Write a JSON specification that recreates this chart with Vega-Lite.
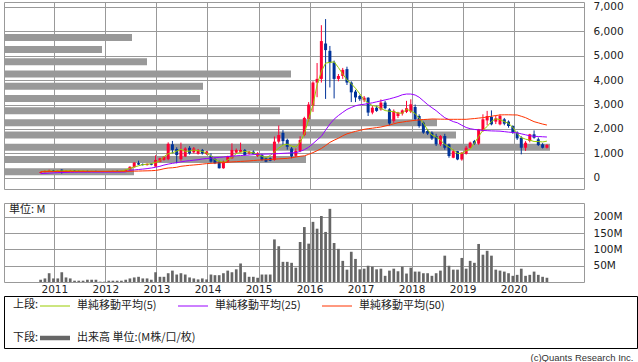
{
  "$schema": "https://vega.github.io/schema/vega-lite/v6.json",
  "background": "white",
  "padding": {"left": 3, "top": 1, "right": 0, "bottom": 0},
  "autosize": {"type": "pad"},
  "title": {"text": "(c)Quants Research Inc.", "orient": "bottom", "anchor": "end", "font": "Liberation Sans", "fontSize": 9.5, "fontWeight": "normal", "color": "#333333", "offset": 4, "dx": -4},
  "datasets": {
    "vp": [
      {"p": 250, "v": 130}, {"p": 750, "v": 302}, {"p": 1250, "v": 546}, {"p": 1750, "v": 452},
      {"p": 2250, "v": 433}, {"p": 2750, "v": 276}, {"p": 3250, "v": 196}, {"p": 3750, "v": 199},
      {"p": 4250, "v": 287}, {"p": 4750, "v": 143}, {"p": 5250, "v": 98}, {"p": 5750, "v": 128}
    ],
    "m": [
      {"d":"2010-09","o":200,"h":240,"l":190,"c":230,"v":7,"m5":260,"m25":170,"m50":250},
      {"d":"2010-10","o":230,"h":300,"l":220,"c":280,"v":11,"m5":270,"m25":180,"m50":252},
      {"d":"2010-11","o":280,"h":330,"l":260,"c":300,"v":27,"m5":275,"m25":190,"m50":254},
      {"d":"2010-12","o":300,"h":320,"l":260,"c":270,"v":11,"m5":274,"m25":200,"m50":256},
      {"d":"2011-01","o":270,"h":310,"l":250,"c":290,"v":11,"m5":282,"m25":210,"m50":258},
      {"d":"2011-02","o":330,"h":350,"l":170,"c":270,"v":30,"m5":284,"m25":215,"m50":260},
      {"d":"2011-03","o":270,"h":310,"l":240,"c":290,"v":14,"m5":284,"m25":220,"m50":260},
      {"d":"2011-04","o":290,"h":320,"l":270,"c":300,"v":11,"m5":286,"m25":225,"m50":261},
      {"d":"2011-05","o":300,"h":310,"l":270,"c":280,"v":4,"m5":282,"m25":228,"m50":261},
      {"d":"2011-06","o":280,"h":300,"l":260,"c":270,"v":4,"m5":284,"m25":230,"m50":262},
      {"d":"2011-07","o":270,"h":290,"l":250,"c":280,"v":4,"m5":278,"m25":230,"m50":262},
      {"d":"2011-08","o":280,"h":290,"l":240,"c":260,"v":7,"m5":272,"m25":230,"m50":262},
      {"d":"2011-09","o":260,"h":280,"l":240,"c":270,"v":7,"m5":268,"m25":232,"m50":262},
      {"d":"2011-10","o":270,"h":290,"l":250,"c":260,"v":7,"m5":264,"m25":232,"m50":262},
      {"d":"2011-11","o":260,"h":270,"l":240,"c":250,"v":1,"m5":260,"m25":232,"m50":262},
      {"d":"2011-12","o":250,"h":270,"l":240,"c":260,"v":1,"m5":262,"m25":232,"m50":262},
      {"d":"2012-01","o":260,"h":280,"l":250,"c":270,"v":4,"m5":264,"m25":233,"m50":262},
      {"d":"2012-02","o":270,"h":290,"l":260,"c":280,"v":4,"m5":266,"m25":233,"m50":262},
      {"d":"2012-03","o":280,"h":300,"l":260,"c":270,"v":4,"m5":272,"m25":233,"m50":262},
      {"d":"2012-04","o":270,"h":290,"l":260,"c":280,"v":4,"m5":284,"m25":233,"m50":263},
      {"d":"2012-05","o":280,"h":330,"l":270,"c":320,"v":7,"m5":320,"m25":240,"m50":263},
      {"d":"2012-06","o":340,"h":470,"l":330,"c":450,"v":11,"m5":388,"m25":300,"m50":265},
      {"d":"2012-07","o":430,"h":640,"l":420,"c":620,"v":14,"m5":442,"m25":320,"m50":270},
      {"d":"2012-08","o":600,"h":700,"l":520,"c":540,"v":16,"m5":490,"m25":340,"m50":275},
      {"d":"2012-09","o":560,"h":590,"l":500,"c":520,"v":11,"m5":540,"m25":355,"m50":280},
      {"d":"2012-10","o":520,"h":590,"l":500,"c":570,"v":11,"m5":556,"m25":375,"m50":285},
      {"d":"2012-11","o":580,"h":600,"l":510,"c":530,"v":7,"m5":578,"m25":400,"m50":290},
      {"d":"2012-12","o":460,"h":920,"l":450,"c":730,"v":30,"m5":630,"m25":430,"m50":300},
      {"d":"2013-01","o":660,"h":820,"l":640,"c":800,"v":16,"m5":698,"m25":470,"m50":330},
      {"d":"2013-02","o":730,"h":880,"l":700,"c":860,"v":16,"m5":862,"m25":520,"m50":370},
      {"d":"2013-03","o":760,"h":1450,"l":720,"c":1390,"v":27,"m5":984,"m25":560,"m50":400},
      {"d":"2013-04","o":1370,"h":1510,"l":1000,"c":1140,"v":35,"m5":1024,"m25":590,"m50":410},
      {"d":"2013-05","o":1180,"h":1250,"l":590,"c":930,"v":23,"m5":1092,"m25":620,"m50":430},
      {"d":"2013-06","o":760,"h":1440,"l":700,"c":1140,"v":27,"m5":1160,"m25":650,"m50":470},
      {"d":"2013-07","o":870,"h":1250,"l":850,"c":1200,"v":23,"m5":1082,"m25":680,"m50":490},
      {"d":"2013-08","o":1230,"h":1300,"l":950,"c":1000,"v":14,"m5":1094,"m25":700,"m50":510},
      {"d":"2013-09","o":1040,"h":1260,"l":1000,"c":1200,"v":11,"m5":1136,"m25":720,"m50":525},
      {"d":"2013-10","o":980,"h":1180,"l":950,"c":1140,"v":8,"m5":1108,"m25":740,"m50":540},
      {"d":"2013-11","o":1140,"h":1180,"l":950,"c":1000,"v":11,"m5":1082,"m25":770,"m50":560},
      {"d":"2013-12","o":970,"h":1100,"l":940,"c":1070,"v":8,"m5":1014,"m25":790,"m50":580},
      {"d":"2014-01","o":890,"h":1000,"l":620,"c":660,"v":23,"m5":892,"m25":805,"m50":590},
      {"d":"2014-02","o":770,"h":820,"l":560,"c":590,"v":21,"m5":742,"m25":820,"m50":600},
      {"d":"2014-03","o":660,"h":700,"l":380,"c":390,"v":21,"m5":674,"m25":835,"m50":610},
      {"d":"2014-04","o":390,"h":700,"l":370,"c":660,"v":27,"m5":632,"m25":850,"m50":620},
      {"d":"2014-05","o":660,"h":900,"l":620,"c":860,"v":35,"m5":728,"m25":870,"m50":635},
      {"d":"2014-06","o":800,"h":1410,"l":780,"c":1140,"v":30,"m5":838,"m25":885,"m50":650},
      {"d":"2014-07","o":1030,"h":1200,"l":1000,"c":1140,"v":39,"m5":988,"m25":900,"m50":660},
      {"d":"2014-08","o":1060,"h":1440,"l":1040,"c":1140,"v":57,"m5":1042,"m25":910,"m50":670},
      {"d":"2014-09","o":1140,"h":1180,"l":900,"c":930,"v":30,"m5":1084,"m25":920,"m50":680},
      {"d":"2014-10","o":1000,"h":1100,"l":950,"c":1070,"v":16,"m5":1052,"m25":930,"m50":690},
      {"d":"2014-11","o":1070,"h":1120,"l":950,"c":980,"v":16,"m5":1024,"m25":945,"m50":705},
      {"d":"2014-12","o":890,"h":1050,"l":850,"c":1000,"v":13,"m5":942,"m25":960,"m50":720},
      {"d":"2015-01","o":930,"h":980,"l":700,"c":730,"v":23,"m5":888,"m25":965,"m50":730},
      {"d":"2015-02","o":800,"h":850,"l":640,"c":660,"v":23,"m5":814,"m25":970,"m50":740},
      {"d":"2015-03","o":800,"h":830,"l":680,"c":700,"v":23,"m5":914,"m25":975,"m50":750},
      {"d":"2015-04","o":730,"h":1690,"l":700,"c":1480,"v":131,"m5":1064,"m25":980,"m50":765},
      {"d":"2015-05","o":1480,"h":2140,"l":1400,"c":1750,"v":110,"m5":1218,"m25":990,"m50":775},
      {"d":"2015-06","o":1840,"h":1950,"l":1350,"c":1500,"v":62,"m5":1340,"m25":1000,"m50":785},
      {"d":"2015-07","o":1550,"h":1600,"l":1150,"c":1270,"v":62,"m5":1376,"m25":1010,"m50":795},
      {"d":"2015-08","o":1200,"h":1260,"l":800,"c":880,"v":59,"m5":1300,"m25":1020,"m50":820},
      {"d":"2015-09","o":900,"h":1200,"l":850,"c":1100,"v":44,"m5":1260,"m25":1030,"m50":850},
      {"d":"2015-10","o":1100,"h":1700,"l":1050,"c":1550,"v":123,"m5":1450,"m25":1080,"m50":880},
      {"d":"2015-11","o":1750,"h":2500,"l":1700,"c":2450,"v":169,"m5":1796,"m25":1150,"m50":900},
      {"d":"2015-12","o":2400,"h":3100,"l":2300,"c":3000,"v":118,"m5":2400,"m25":1250,"m50":960},
      {"d":"2016-01","o":2950,"h":3950,"l":2700,"c":3900,"v":185,"m5":2990,"m25":1400,"m50":1030},
      {"d":"2016-02","o":3900,"h":4700,"l":3300,"c":4050,"v":164,"m5":3800,"m25":1550,"m50":1110},
      {"d":"2016-03","o":4050,"h":6250,"l":3900,"c":5600,"v":203,"m5":4356,"m25":1700,"m50":1200},
      {"d":"2016-04","o":5500,"h":6500,"l":3230,"c":5230,"v":154,"m5":4696,"m25":1950,"m50":1320},
      {"d":"2016-05","o":5200,"h":5400,"l":3700,"c":4700,"v":225,"m5":4726,"m25":2200,"m50":1450},
      {"d":"2016-06","o":4720,"h":4800,"l":3250,"c":4050,"v":120,"m5":4750,"m25":2400,"m50":1540},
      {"d":"2016-07","o":4050,"h":4250,"l":3950,"c":4170,"v":102,"m5":4514,"m25":2550,"m50":1620},
      {"d":"2016-08","o":4170,"h":4500,"l":4050,"c":4420,"v":65,"m5":4248,"m25":2680,"m50":1720},
      {"d":"2016-09","o":4450,"h":4550,"l":3800,"c":3900,"v":38,"m5":4008,"m25":2800,"m50":1800},
      {"d":"2016-10","o":3900,"h":3950,"l":3100,"c":3500,"v":93,"m5":3856,"m25":2880,"m50":1850},
      {"d":"2016-11","o":3530,"h":3600,"l":3100,"c":3290,"v":71,"m5":3666,"m25":2950,"m50":1900},
      {"d":"2016-12","o":3350,"h":3400,"l":3150,"c":3220,"v":39,"m5":3438,"m25":2990,"m50":1940},
      {"d":"2017-01","o":3180,"h":3350,"l":3100,"c":3280,"v":41,"m5":3192,"m25":3010,"m50":1984},
      {"d":"2017-02","o":3280,"h":3300,"l":2530,"c":2670,"v":50,"m5":3066,"m25":3040,"m50":2010},
      {"d":"2017-03","o":2670,"h":2950,"l":2600,"c":2870,"v":47,"m5":2956,"m25":3070,"m50":2030},
      {"d":"2017-04","o":2870,"h":2950,"l":2700,"c":2740,"v":39,"m5":2928,"m25":3110,"m50":2055},
      {"d":"2017-05","o":2800,"h":3210,"l":2750,"c":3080,"v":41,"m5":2842,"m25":3150,"m50":2080},
      {"d":"2017-06","o":3080,"h":3150,"l":2800,"c":2850,"v":19,"m5":2752,"m25":3190,"m50":2120},
      {"d":"2017-07","o":2800,"h":2850,"l":2150,"c":2220,"v":35,"m5":2726,"m25":3230,"m50":2160},
      {"d":"2017-08","o":2330,"h":2800,"l":2250,"c":2740,"v":41,"m5":2712,"m25":3280,"m50":2210},
      {"d":"2017-09","o":2530,"h":2700,"l":2450,"c":2670,"v":33,"m5":2648,"m25":3330,"m50":2257},
      {"d":"2017-10","o":2630,"h":2800,"l":2550,"c":2760,"v":47,"m5":2648,"m25":3400,"m50":2280},
      {"d":"2017-11","o":2700,"h":3150,"l":2650,"c":2850,"v":26,"m5":2806,"m25":3430,"m50":2310},
      {"d":"2017-12","o":2710,"h":3215,"l":2650,"c":3010,"v":44,"m5":2738,"m25":3430,"m50":2330},
      {"d":"2018-01","o":2900,"h":3000,"l":2350,"c":2400,"v":32,"m5":2628,"m25":3390,"m50":2353},
      {"d":"2018-02","o":2530,"h":2600,"l":2050,"c":2120,"v":32,"m5":2446,"m25":3300,"m50":2370},
      {"d":"2018-03","o":2260,"h":2300,"l":1800,"c":1850,"v":27,"m5":2238,"m25":3150,"m50":2385},
      {"d":"2018-04","o":1915,"h":2000,"l":1750,"c":1810,"v":27,"m5":1958,"m25":3000,"m50":2395},
      {"d":"2018-05","o":1850,"h":1900,"l":1550,"c":1610,"v":19,"m5":1752,"m25":2870,"m50":2408},
      {"d":"2018-06","o":1710,"h":1800,"l":1300,"c":1370,"v":27,"m5":1670,"m25":2750,"m50":2405},
      {"d":"2018-07","o":1370,"h":1750,"l":1300,"c":1710,"v":35,"m5":1546,"m25":2600,"m50":2400},
      {"d":"2018-08","o":1710,"h":1800,"l":1150,"c":1230,"v":81,"m5":1362,"m25":2460,"m50":2398},
      {"d":"2018-09","o":1370,"h":1400,"l":820,"c":890,"v":50,"m5":1258,"m25":2380,"m50":2394},
      {"d":"2018-10","o":820,"h":1150,"l":800,"c":1090,"v":38,"m5":1134,"m25":2300,"m50":2394},
      {"d":"2018-11","o":1090,"h":1100,"l":720,"c":750,"v":38,"m5":998,"m25":2250,"m50":2394},
      {"d":"2018-12","o":750,"h":1050,"l":700,"c":1030,"v":74,"m5":998,"m25":2150,"m50":2394},
      {"d":"2019-01","o":985,"h":1300,"l":950,"c":1230,"v":41,"m5":1108,"m25":2060,"m50":2394},
      {"d":"2019-02","o":1230,"h":1480,"l":1200,"c":1440,"v":65,"m5":1169,"m25":2010,"m50":2410},
      {"d":"2019-03","o":1505,"h":1550,"l":1350,"c":1395,"v":59,"m5":1416,"m25":1980,"m50":2425},
      {"d":"2019-04","o":1395,"h":2000,"l":1350,"c":1985,"v":117,"m5":1689,"m25":1960,"m50":2445},
      {"d":"2019-05","o":1915,"h":2600,"l":1880,"c":2395,"v":84,"m5":1949,"m25":1940,"m50":2462},
      {"d":"2019-06","o":2350,"h":2740,"l":2150,"c":2530,"v":96,"m5":2099,"m25":1930,"m50":2490},
      {"d":"2019-07","o":2490,"h":2760,"l":2150,"c":2190,"v":81,"m5":2307,"m25":1920,"m50":2520},
      {"d":"2019-08","o":2300,"h":2550,"l":2200,"c":2435,"v":38,"m5":2416,"m25":1915,"m50":2550},
      {"d":"2019-09","o":2190,"h":2600,"l":2150,"c":2530,"v":35,"m5":2380,"m25":1910,"m50":2572},
      {"d":"2019-10","o":2395,"h":2450,"l":2150,"c":2215,"v":32,"m5":2298,"m25":1890,"m50":2580},
      {"d":"2019-11","o":2300,"h":2350,"l":2050,"c":2120,"v":27,"m5":2230,"m25":1870,"m50":2580},
      {"d":"2019-12","o":2120,"h":2150,"l":1800,"c":1850,"v":19,"m5":2066,"m25":1855,"m50":2575},
      {"d":"2020-01","o":1850,"h":1900,"l":1550,"c":1615,"v":22,"m5":1806,"m25":1840,"m50":2572},
      {"d":"2020-02","o":1640,"h":1700,"l":960,"c":1230,"v":41,"m5":1650,"m25":1800,"m50":2520},
      {"d":"2020-03","o":1230,"h":1500,"l":1100,"c":1435,"v":19,"m5":1582,"m25":1760,"m50":2462},
      {"d":"2020-04","o":1505,"h":1800,"l":1450,"c":1780,"v":22,"m5":1540,"m25":1720,"m50":2380},
      {"d":"2020-05","o":1780,"h":1940,"l":1600,"c":1640,"v":32,"m5":1485,"m25":1700,"m50":2298},
      {"d":"2020-06","o":1575,"h":1650,"l":1300,"c":1340,"v":22,"m5":1485,"m25":1690,"m50":2250},
      {"d":"2020-07","o":1370,"h":1420,"l":1200,"c":1230,"v":16,"m5":1466,"m25":1680,"m50":2200},
      {"d":"2020-08","o":1230,"h":1380,"l":1200,"c":1340,"v":13,"m5":1500,"m25":1670,"m50":2160}
    ]
  },
  "spacing": 14,
  "bounds": "flush",
  "vconcat": [
    {
      "width": 580,
      "height": 187,
      "resolve": {"scale": {"x": "independent"}, "axis": {"x": "independent"}},
      "layer": [
        {
          "data": {"name": "vp"},
          "mark": {"type": "bar", "orient": "horizontal", "color": "#999999", "height": 7},
          "encoding": {
            "x": {"field": "v", "type": "quantitative", "scale": {"domain": [0, 580], "nice": false, "padding": 0}, "axis": null},
            "y": {"field": "p", "type": "quantitative", "title": null,
                  "scale": {"domain": [-460, 7200], "nice": false, "zero": false, "padding": 0},
                  "axis": {"orient": "right", "values": [0, 1000, 2000, 3000, 4000, 5000, 6000, 7000], "format": ",d", "grid": true, "ticks": false, "domain": false, "labelPadding": 9, "labelOverlap": false}}
          }
        },
        {
          "data": {"name": "m"},
          "encoding": {
            "x": {"field": "d", "type": "temporal", "timeUnit": "utcyearmonth", "bandPosition": 0.8, "title": null,
                  "scale": {"domain": [{"year": 2010, "month": 1, "date": 6, "utc": true}, {"year": 2021, "month": 5, "date": 18, "utc": true}]},
                  "axis": {"orient": "bottom", "grid": true, "labels": false, "ticks": false, "domain": false,
                           "values": [{"year": 2011, "utc": true}, {"year": 2012, "utc": true}, {"year": 2013, "utc": true}, {"year": 2014, "utc": true}, {"year": 2015, "utc": true}, {"year": 2016, "utc": true}, {"year": 2017, "utc": true}, {"year": 2018, "utc": true}, {"year": 2019, "utc": true}, {"year": 2020, "utc": true}]}}
          },
          "layer": [
            {
              "mark": {"type": "rule", "strokeWidth": 1},
              "encoding": {
                "y": {"field": "l", "type": "quantitative", "title": null,
                      "axis": {"orient": "right", "values": [0, 1000, 2000, 3000, 4000, 5000, 6000, 7000], "format": ",d", "grid": true, "ticks": false, "domain": false, "labelPadding": 9, "labelOverlap": false}},
                "y2": {"field": "h"},
                "color": {"condition": {"test": "datum.c >= datum.o", "value": "#ff0033"}, "value": "#003399"}
              }
            },
            {
              "mark": {"type": "rule", "strokeWidth": 3, "strokeCap": "butt"},
              "encoding": {
                "y": {"field": "o", "type": "quantitative", "title": null,
                      "axis": {"orient": "right", "values": [0, 1000, 2000, 3000, 4000, 5000, 6000, 7000], "format": ",d", "grid": true, "ticks": false, "domain": false, "labelPadding": 9, "labelOverlap": false}},
                "y2": {"field": "c"},
                "color": {"condition": {"test": "datum.c >= datum.o", "value": "#ff0033"}, "value": "#003399"}
              }
            },
            {
              "mark": {"type": "line", "strokeWidth": 1},
              "encoding": {
                "y": {"field": "m5", "type": "quantitative", "title": null,
                      "axis": {"orient": "right", "values": [0, 1000, 2000, 3000, 4000, 5000, 6000, 7000], "format": ",d", "grid": true, "ticks": false, "domain": false, "labelPadding": 9, "labelOverlap": false}},
                "stroke": {"datum": "単純移動平均(5)", "type": "nominal",
                  "scale": {"domain": ["単純移動平均(5)", "単純移動平均(25)", "単純移動平均(50)"], "range": ["#99cc00", "#9900ff", "#ff3300"]},
                  "legend": {"orient": "none", "legendX": 9, "legendY": 296, "direction": "horizontal", "title": "上段:", "titleOrient": "left", "titlePadding": 1, "symbolType": "M-2,0H2", "symbolSize": 225, "symbolStrokeWidth": 1, "symbolOffset": 7, "labelOffset": 14, "columnPadding": 19}}
              }
            },
            {
              "mark": {"type": "line", "strokeWidth": 1},
              "encoding": {
                "y": {"field": "m25", "type": "quantitative", "title": null,
                      "axis": {"orient": "right", "values": [0, 1000, 2000, 3000, 4000, 5000, 6000, 7000], "format": ",d", "grid": true, "ticks": false, "domain": false, "labelPadding": 9, "labelOverlap": false}},
                "stroke": {"datum": "単純移動平均(25)", "type": "nominal"}
              }
            },
            {
              "mark": {"type": "line", "strokeWidth": 1},
              "encoding": {
                "y": {"field": "m50", "type": "quantitative", "title": null,
                      "axis": {"orient": "right", "values": [0, 1000, 2000, 3000, 4000, 5000, 6000, 7000], "format": ",d", "grid": true, "ticks": false, "domain": false, "labelPadding": 9, "labelOverlap": false}},
                "stroke": {"datum": "単純移動平均(50)", "type": "nominal"}
              }
            }
          ]
        }
      ]
    },
    {
      "width": 580,
      "height": 79,
      "data": {"name": "m"},
      "title": {"text": "単位: M", "anchor": "start", "offset": -12, "dx": 5, "font": "Noto Sans CJK JP", "fontSize": 11, "fontWeight": "normal", "color": "#222222"},
      "mark": {"type": "rule", "strokeWidth": 2.7, "strokeCap": "butt"},
      "encoding": {
        "x": {"field": "d", "type": "temporal", "timeUnit": "utcyearmonth", "bandPosition": 0.8, "title": null,
              "scale": {"domain": [{"year": 2010, "month": 1, "date": 6, "utc": true}, {"year": 2021, "month": 5, "date": 18, "utc": true}]},
              "axis": {"orient": "bottom", "grid": true, "ticks": false, "domain": false, "labelPadding": 2, "format": "%Y", "labelFlush": false, "labelOverlap": false,
                       "values": [{"year": 2011, "utc": true}, {"year": 2012, "utc": true}, {"year": 2013, "utc": true}, {"year": 2014, "utc": true}, {"year": 2015, "utc": true}, {"year": 2016, "utc": true}, {"year": 2017, "utc": true}, {"year": 2018, "utc": true}, {"year": 2019, "utc": true}, {"year": 2020, "utc": true}]}},
        "y": {"field": "v", "type": "quantitative", "title": null,
              "scale": {"domain": [0, 243], "nice": false},
              "axis": {"orient": "right", "values": [50, 100, 150, 200], "labelExpr": "datum.value + 'M'", "grid": true, "ticks": false, "domain": false, "labelPadding": 9, "labelOverlap": false}},
        "y2": {"datum": 0},
        "color": {"datum": "出来高 単位:(M株/口/枚)", "type": "nominal",
          "scale": {"domain": ["出来高 単位:(M株/口/枚)"], "range": ["#666666"]},
          "legend": {"orient": "none", "legendX": 9, "legendY": 326, "direction": "horizontal", "title": "下段:", "titleOrient": "left", "titlePadding": 1, "symbolType": "M-2,0H2", "symbolSize": 225, "symbolStrokeWidth": 4.5, "symbolOffset": 5, "labelOffset": 12}}
      }
    },
    {
      "width": 633,
      "height": 52,
      "view": {"stroke": "#000000", "strokeWidth": 1},
      "data": {"values": [{"t": ""}]},
      "mark": {"type": "text"},
      "encoding": {"text": {"field": "t"}}
    }
  ],
  "config": {
    "view": {"stroke": "#999999"},
    "axis": {"labelFont": "DejaVu Sans", "labelFontSize": 10.5, "labelColor": "#222222", "gridColor": "#999999", "gridOpacity": 1, "gridWidth": 1, "tickSize": 0},
    "legend": {"labelFont": "Noto Sans CJK JP", "labelFontSize": 11, "labelColor": "#222222", "titleFont": "Noto Sans CJK JP", "titleFontSize": 11, "titleFontWeight": "normal", "titleColor": "#222222", "labelLimit": 0}
  }
}
